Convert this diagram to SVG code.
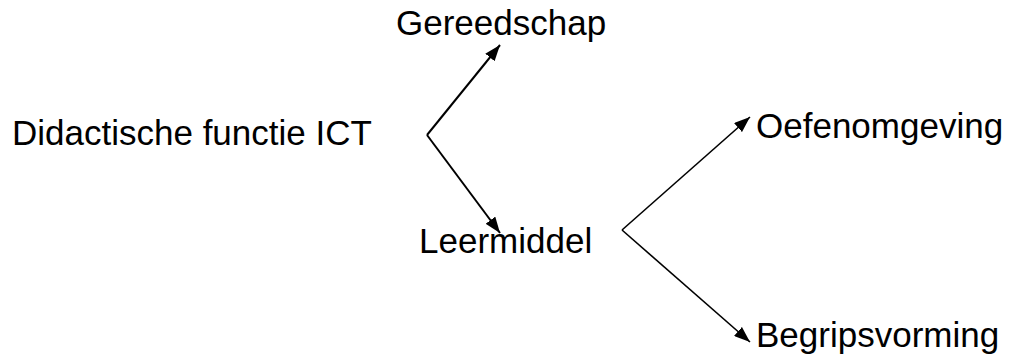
<svg xmlns="http://www.w3.org/2000/svg" width="1009" height="358" viewBox="0 0 1009 358">
  <style>
    .label { font-family: "Liberation Sans", Arial, sans-serif; font-size: 35px; fill: #000; }
    .edge { fill: none; stroke: #000; marker-end: url(#arrow); }
    .thick { stroke-width: 2; }
    .thin { stroke-width: 1.6; }
  </style>
  <defs>
    <marker id="arrow" viewBox="0 0 16 12" refX="16" refY="6" markerWidth="16" markerHeight="12" markerUnits="userSpaceOnUse" orient="auto">
      <path d="M0,0 L16,6 L0,12 Z" fill="#000"/>
    </marker>
  </defs>
  <rect width="1009" height="358" fill="#fff"/>

  <g id="connectors">
    <line class="edge thick" x1="427" y1="135" x2="500" y2="45"/>
    <line class="edge thick" x1="427" y1="135" x2="500" y2="233"/>
    <line class="edge thin" x1="622" y1="230" x2="750" y2="117"/>
    <line class="edge thin" x1="622" y1="230" x2="750" y2="342"/>
  </g>

  <g id="node-didactische-functie">
    <text class="label" x="12" y="145">Didactische functie ICT</text>
  </g>
  <g id="node-gereedschap">
    <text class="label" x="396" y="35">Gereedschap</text>
  </g>
  <g id="node-leermiddel">
    <text class="label" x="419" y="253">Leermiddel</text>
  </g>
  <g id="node-oefenomgeving">
    <text class="label" x="756" y="138">Oefenomgeving</text>
  </g>
  <g id="node-begripsvorming">
    <text class="label" x="756" y="347">Begripsvorming</text>
  </g>
</svg>
